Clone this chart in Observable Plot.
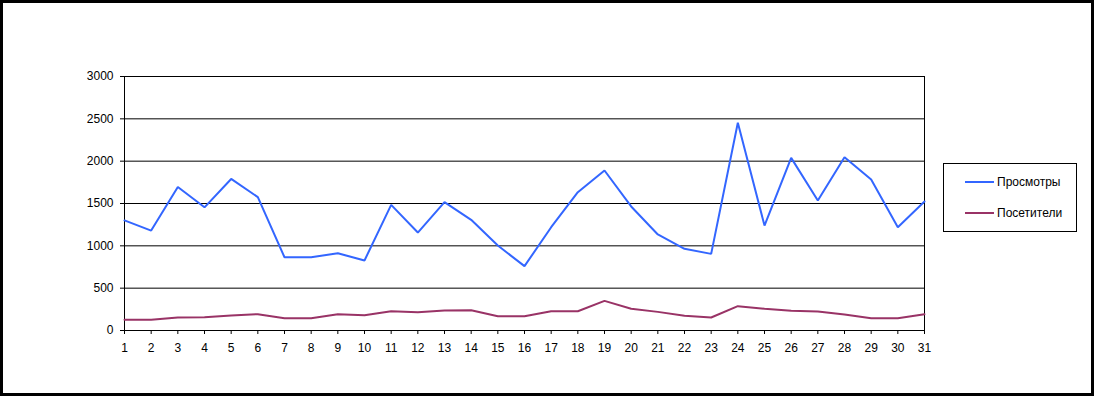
<!DOCTYPE html>
<html>
<head>
<meta charset="utf-8">
<script src="https://cdn.jsdelivr.net/npm/d3@7"></script>
<script src="https://cdn.jsdelivr.net/npm/@observablehq/plot@0.6"></script>
<style>
  html, body { margin: 0; padding: 0; background: #fff; }
  #wrap { position: relative; width: 1094px; height: 396px; overflow: hidden; font-family: "Liberation Sans", Arial, sans-serif; }
  #chart svg { position: absolute; left: 0; top: 0; }
  #border { position: absolute; left: 0; top: 0; width: 1094px; height: 396px; box-sizing: border-box; border: 3px solid #000; pointer-events: none; }
  #legend { position: absolute; left: 943px; top: 163px; width: 134px; height: 69px; box-sizing: border-box; border: 1px solid #000; background: #fff; font-size: 12px; }
  .item { position: absolute; left: 21px; height: 14px; display: flex; align-items: center; }
  .swatch { width: 29px; height: 2px; margin-right: 3px; }
</style>
</head>
<body>
<div id="wrap">
  <div id="chart"></div>
  <div id="legend"></div>
  <div id="border"></div>
</div>
<script>
const days = d3.range(1, 32);
const seriesNames = ["Просмотры", "Посетители"];
const views = [1300, 1180, 1695, 1455, 1790, 1575, 865, 865, 913, 827, 1484, 1157, 1516, 1307,
               1004, 760, 1220, 1634, 1890, 1465, 1134, 965, 905, 2453, 1240, 2039, 1535, 2047, 1783, 1220, 1524];
const visitors = [126, 126, 154, 157, 177, 193, 146, 146, 193, 181, 228, 217, 236, 240,
                  169, 169, 228, 228, 350, 256, 220, 173, 154, 287, 256, 232, 224, 189, 146, 146, 193];
const colors = ["#3366FF", "#993366"];
const yTicks = [0, 500, 1000, 1500, 2000, 2500, 3000];

const data = [];
days.forEach((d, i) => {
  data.push({day: d, value: views[i], series: seriesNames[0]});
  data.push({day: d, value: visitors[i], series: seriesNames[1]});
});

const chart = Plot.plot({
  width: 1094,
  height: 396,
  marginLeft: 124,
  marginRight: 170,
  marginTop: 76,
  marginBottom: 66,
  style: {fontFamily: "'Liberation Sans', Arial, sans-serif", fontSize: "12px", color: "#000", background: "transparent"},
  x: {type: "linear", domain: [1, 31]},
  y: {domain: [0, 3000]},
  color: {domain: seriesNames, range: colors},
  marks: [
    Plot.gridY(yTicks.slice(1), {stroke: "#000", strokeOpacity: 1, strokeWidth: 1}),
    Plot.ruleX([31], {stroke: "#000", strokeWidth: 1}),
    Plot.ruleX([1], {stroke: "#000", strokeWidth: 1}),
    Plot.ruleY([0], {stroke: "#000", strokeWidth: 1}),
    Plot.axisY({ticks: yTicks, tickSize: 4, tickPadding: 7, label: null, tickFormat: d => String(d), fontSize: 12}),
    Plot.axisX({ticks: days, tickSize: 4, tickPadding: 9, label: null, tickFormat: d => String(d), fontSize: 12}),
    Plot.line(data, {x: "day", y: "value", stroke: "series", z: "series", strokeWidth: 2, strokeLinejoin: "miter", curve: "linear"})
  ]
});
document.getElementById("chart").appendChild(chart);

const legend = document.getElementById("legend");
seriesNames.forEach((name, i) => {
  const item = document.createElement("div");
  item.className = "item";
  item.style.top = (i === 0 ? 11 : 42) + "px";
  const sw = document.createElement("span");
  sw.className = "swatch";
  sw.style.background = colors[i];
  const tx = document.createElement("span");
  tx.textContent = name;
  item.appendChild(sw);
  item.appendChild(tx);
  legend.appendChild(item);
});
</script>
</body>
</html>
